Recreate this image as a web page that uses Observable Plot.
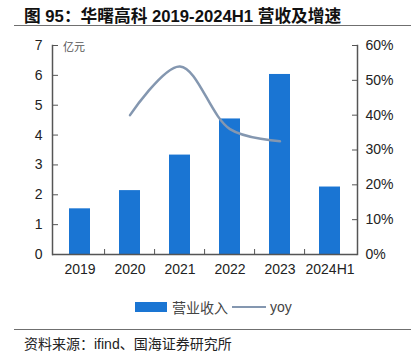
<!DOCTYPE html>
<html><head><meta charset="utf-8">
<script src="https://cdn.jsdelivr.net/npm/d3@7"></script>
<script src="https://cdn.jsdelivr.net/npm/@observablehq/plot@0.6"></script>
<style>
body{margin:0;background:#fff;font-family:"Liberation Sans",Arial,"Noto Sans CJK SC",sans-serif;}
#wrap{position:relative;width:411px;height:357px;overflow:hidden;background:#fff;}
#chart{position:absolute;left:0;top:0;}
#title{position:absolute;left:24px;top:3px;font-size:16.7px;font-weight:bold;color:#111;white-space:nowrap;font-family:"Liberation Sans",Arial,"Noto Sans CJK SC",sans-serif;}
.hr{position:absolute;left:14px;width:397px;height:0;border-top:1.5px solid #6f6f6f;}
#unit{position:absolute;left:63px;top:38px;font-size:11px;color:#555;font-family:"Noto Sans CJK SC",sans-serif;}
#legend{position:absolute;top:298px;left:135px;height:18px;display:flex;align-items:center;font-size:14px;color:#444;white-space:nowrap;}
#legend .sw{width:32px;height:10px;background:#1a75d3;margin-right:5px;}
#legend .ln{width:34px;height:0;border-top:2.5px solid #8497b0;margin:0 4px 0 4px;}
#legend .cjk{font-family:"Noto Sans CJK SC",sans-serif;}
#source{position:absolute;left:24px;top:333px;font-size:14px;color:#222;white-space:nowrap;font-family:"Noto Sans CJK SC",sans-serif;}
#source .lat{font-family:"Liberation Sans",Arial,sans-serif;}
</style>
</head><body>
<div id="wrap">
  <div id="chart"></div>
  <div id="title">图 95：华曙高科 2019-2024H1 营收及增速</div>
  <div class="hr" style="top:25px"></div>
  <div id="unit">亿元</div>
  <div id="legend"><div class="sw"></div><span class="cjk">营业收入</span><div class="ln"></div><span>yoy</span></div>
  <div class="hr" style="top:329px"></div>
  <div id="source">资料来源：<span class="lat">ifind</span>、国海证券研究所</div>
</div>
<script>
const categories = ["2019","2020","2021","2022","2023","2024H1"];
const revenue = [1.53, 2.14, 3.33, 4.54, 6.03, 2.26];
const yoyYears = ["2020","2021","2022","2023"];
const yoyPct = [40, 54, 36, 32.5];
const leftTicks = [0,1,2,3,4,5,6,7];
const rightTicks = [0,10,20,30,40,50,60];

const W = 411, H = 357, mL = 52, mR = 54, mT = 45, mB = 103;
const k = 7 / 60; // percent -> left axis units
const step = (W - mL - mR) / categories.length;
const plotW = W - mL - mR, plotH = H - mT - mB;

const bars = categories.map((c, i) => ({cat: c, rev: revenue[i]}));
const yoy = yoyYears.map((c, i) => ({cat: c, v: yoyPct[i] * k}));
const axisColor = "#555";

const chart = Plot.plot({
  width: W, height: H,
  marginLeft: mL, marginRight: mR, marginTop: mT, marginBottom: mB,
  style: {fontSize: "14px", fontFamily: "'Liberation Sans', Arial, sans-serif", color: "#222", background: "transparent"},
  x: {type: "band", domain: categories, paddingInner: 0.59, paddingOuter: 0.295, align: 0.5},
  y: {domain: [0, 7]},
  marks: [
    Plot.barY(bars, {x: "cat", y: "rev", fill: "#1a75d3"}),
    Plot.line(yoy, {x: "cat", y: "v", stroke: "#8497b0", strokeWidth: 2.5, curve: "catmull-rom"}),
    // axis lines
    Plot.ruleY([0], {stroke: axisColor, strokeWidth: 1.5}),
    Plot.frame({anchor: "left", stroke: axisColor, strokeWidth: 1.5}),
    Plot.frame({anchor: "right", stroke: axisColor, strokeWidth: 1.5}),
    // inward ticks
    Plot.tickY(leftTicks, {y: d => d, stroke: axisColor, insetRight: plotW - 6}),
    Plot.tickY(rightTicks.map(p => p * k), {y: d => d, stroke: axisColor, insetLeft: plotW - 5}),
    Plot.tickX(categories.slice(1), {x: d => d, dx: -step / 2, stroke: axisColor, insetTop: plotH - 5}),
    // labels
    Plot.axisY(leftTicks, {anchor: "left", tickSize: 0, tickPadding: 10, fontSize: 14}),
    Plot.axisY(rightTicks.map(p => p * k), {anchor: "right", tickSize: 0, tickPadding: 8, fontSize: 14, tickFormat: d => Math.round(d / k) + "%"}),
    Plot.axisX({anchor: "bottom", tickSize: 0, tickPadding: 10, fontSize: 14, label: null})
  ]
});
document.getElementById("chart").appendChild(chart);
</script>
</body></html>
